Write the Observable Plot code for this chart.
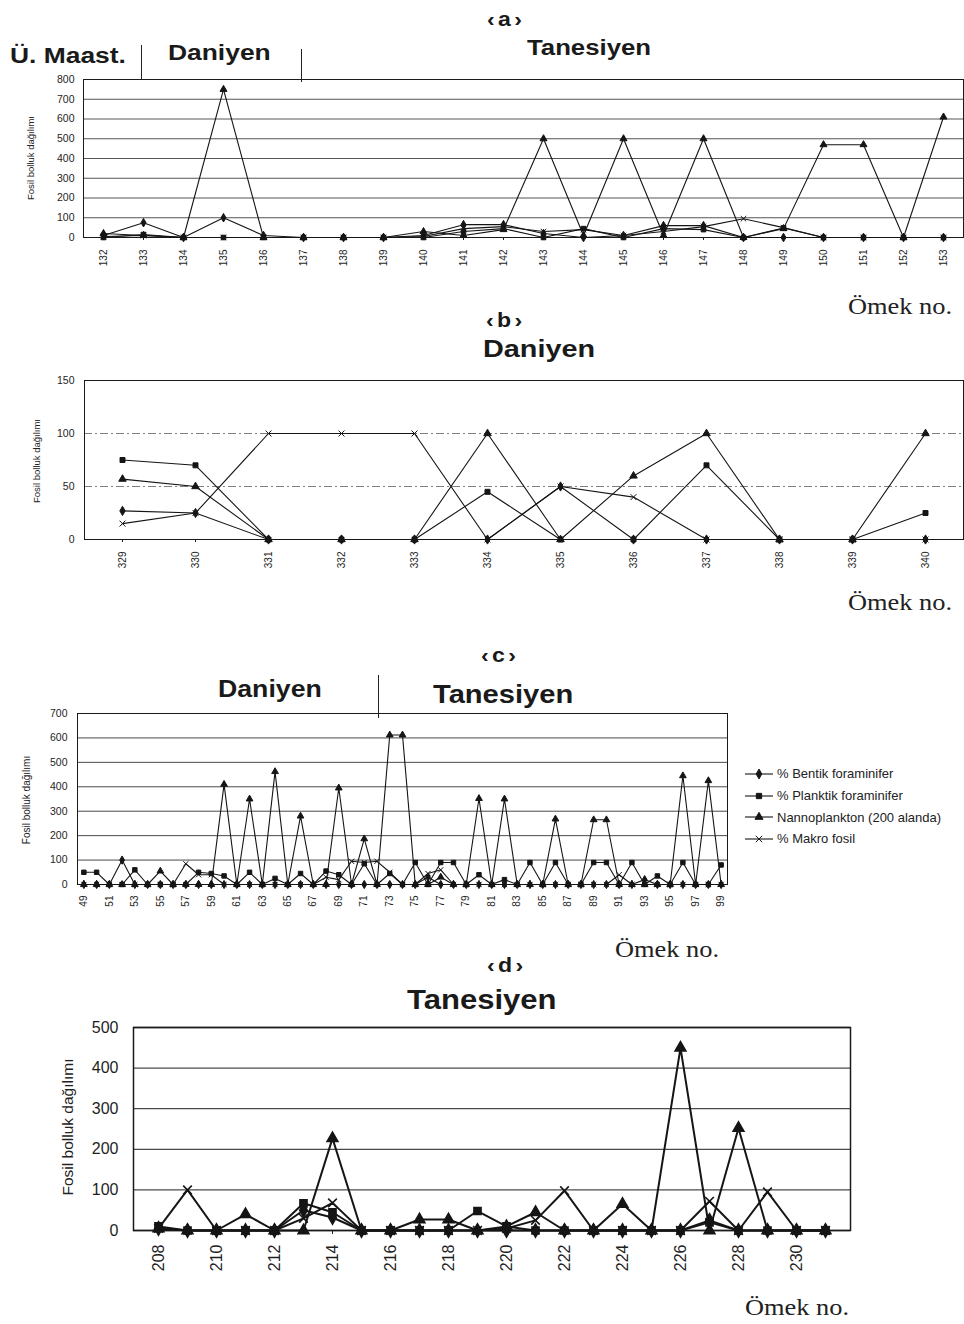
<!DOCTYPE html>
<html><head><meta charset="utf-8">
<script src="https://cdn.jsdelivr.net/npm/d3@7"></script>
<script src="https://cdn.jsdelivr.net/npm/@observablehq/plot@0.6"></script>
<style>
body{margin:0;background:#fff;}
#root{position:relative;width:964px;height:1324px;background:#fff;font-family:"Liberation Sans",Arial,sans-serif;color:#1a1a1a;overflow:hidden;}
.t{position:absolute;white-space:nowrap;font-weight:bold;line-height:1;transform-origin:left top;}
.br{letter-spacing:3px;}
.omek{position:absolute;white-space:nowrap;font-family:"Liberation Serif","Times New Roman",serif;line-height:1;transform-origin:left top;color:#222;}
.plot{position:absolute;left:0;}
.vr{position:absolute;width:0;border-left:1.6px solid #222;}
.yl{position:absolute;white-space:nowrap;line-height:1;transform:translate(-50%,-50%) rotate(-90deg);color:#222;}
.leg{position:absolute;left:745px;font-size:13px;line-height:1;color:#222;}
.leg div{display:flex;align-items:center;height:21.7px;white-space:nowrap;}
.leg svg{margin-right:4px;}
</style></head><body><div id="root"></div>
<script>
// ---------- data ----------
const names = ["% Bentik foraminifer", "% Planktik foraminifer", "Nannoplankton (200 alanda)", "% Makro fosil"];
const symbols = ["diamond", "square", "triangle", "times"];

// (a)
const samplesA = [132,133,134,135,136,137,138,139,140,141,142,143,144,145,146,147,148,149,150,151,152,153];
const bentikA   = [10, 75, 0, 100, 10, 0, 0, 0, 10, 65, 65, 20, 0, 10, 60, 60, 0, 0, 0, 0, 0, 0];
const planktikA = [0, 15, 0, 0, 0, 0, 0, 0, 0, 30, 45, 0, 45, 0, 45, 40, 0, 48, 0, 0, 0, 0];
const nannoA    = [20, 10, 0, 750, 0, 0, 0, 0, 30, 10, 40, 500, 10, 500, 10, 500, 0, 45, 470, 470, 0, 610];
const makroA    = [5, 10, 0, 0, 0, 0, 0, 0, 5, 45, 55, 30, 40, 10, 30, 55, 95, 50, 0, 0, 0, 0];
const yTicksA = [0,100,200,300,400,500,600,700,800];

// (b)
const samplesB = [329,330,331,332,333,334,335,336,337,338,339,340];
const bentikB   = [27, 25, 0, 0, 0, 0, 50, 0, 0, 0, 0, 0];
const planktikB = [75, 70, 0, 0, 0, 45, 0, 0, 70, 0, 0, 25];
const nannoB    = [57, 50, 0, 0, 0, 100, 0, 60, 100, 0, 0, 100];
const makroB    = [15, 25, 100, 100, 100, 0, 50, 40, 0, 0, 0, 0];
const yTicksB = [0,50,100,150];

// (c)
const samplesC = [49,50,51,52,53,54,55,56,57,58,59,60,61,62,63,64,65,66,67,68,69,70,71,72,73,74,75,76,77,78,79,80,81,82,83,84,85,86,87,88,89,90,91,92,93,94,95,96,97,98,99];
const bentikC   = [0,0,0,100,0,0,0,0,0,0, 0,0,0,0,0,0,0,0,0,0, 0,0,0,0,0,0,0,30,0,0, 0,0,0,0,0,0,0,0,0,0, 0,0,0,0,20,0,0,0,0,0, 0];
const planktikC = [50,50,0,0,60,0,0,0,0,50, 45,35,0,50,0,25,0,45,0,55, 40,0,85,0,45,0,90,0,90,90, 0,40,0,20,0,90,0,90,0,0, 90,90,0,90,0,35,0,90,0,0, 80];
const nannoC    = [0,0,0,0,0,0,55,0,0,0, 0,410,0,350,0,462,0,280,0,0, 395,0,187,0,612,612,0,0,30,0, 0,352,0,350,0,0,0,268,0,0, 265,265,0,0,0,0,0,445,0,425, 0];
const makroC    = [0,0,0,0,0,0,0,0,85,40, 40,0,0,0,0,0,0,0,0,30, 20,95,90,95,50,0,0,45,60,0, 0,0,0,0,0,0,0,0,0,0, 0,0,40,0,0,0,0,0,0,0, 0];
const xLabelsC = [49,51,53,55,57,59,61,63,65,67,69,71,73,75,77,79,81,83,85,87,89,91,93,95,97,99];
const yTicksC = [0,100,200,300,400,500,600,700];

// (d)
const samplesD = [208,209,210,211,212,213,214,215,216,217,218,219,220,221,222,223,224,225,226,227,228,229,230,231];
const bentikD   = [5, 0, 0, 0, 0, 50, 32, 0, 0, 0, 0, 0, 0, 0, 0, 0, 0, 0, 0, 25, 0, 0, 0, 0];
const planktikD = [10, 0, 0, 0, 0, 67, 45, 0, 0, 0, 0, 48, 10, 0, 0, 0, 0, 0, 0, 20, 0, 0, 0, 0];
const nannoD    = [5, 0, 0, 40, 0, 0, 227, 0, 0, 27, 27, 0, 10, 45, 0, 0, 65, 0, 450, 0, 252, 0, 0, 0];
const makroD    = [5, 100, 0, 0, 0, 30, 68, 0, 0, 0, 0, 0, 5, 25, 98, 0, 0, 0, 0, 72, 0, 95, 0, 0];
const xLabelsD = [208,210,212,214,216,218,220,222,224,226,228,230];
const yTicksD = [0,100,200,300,400,500];

const yTitle = "Fosil bolluk dağılımı";

// ---------- drawing ----------
const root = document.getElementById("root");

function panel(p) {
  const rows = [];
  p.series.forEach((vals, k) => vals.forEach((v, i) => {
    if (v != null) rows.push({sample: p.samples[i], value: v, series: names[k]});
  }));
  const chart = Plot.plot({
    width: p.width, height: p.height,
    marginTop: p.mt, marginRight: p.mr, marginBottom: p.mb, marginLeft: p.ml,
    style: {fontFamily: '"Liberation Sans", Arial, sans-serif', background: "transparent", color: "#1e1e1e", overflow: "visible"},
    x: {type: "point", domain: p.samples, padding: 0.5},
    y: {domain: [0, p.ymax]},
    symbol: {domain: names, range: symbols},
    marks: [
      Plot.gridY(p.yticks, {stroke: "#2a2a2a", strokeOpacity: p.gridOp, strokeWidth: p.gridW, strokeDasharray: p.gridDash}),
      Plot.frame({stroke: "#1a1a1a", strokeWidth: p.frameW}),
      Plot.axisY(p.yticks, {tickSize: 0, tickPadding: p.ytp, fontSize: p.yfs, label: null}),
      Plot.axisX(p.xticks, {tickSize: p.xts, tickPadding: p.xtp, tickRotate: -90, fontSize: p.xfs, label: null}),
      Plot.line(rows, {x: "sample", y: "value", z: "series", stroke: "#151515", strokeWidth: p.lw}),
      Plot.dot(rows, {x: "sample", y: "value", symbol: "series", fill: "#151515", stroke: "#151515", strokeWidth: p.mw, r: p.r})
    ]
  });
  chart.classList.add("plot");
  chart.style.top = p.top + "px";
  root.appendChild(chart);
}

function txt(s, left, top, size, sx, cls) {
  const d = document.createElement("div");
  d.className = cls || "t";
  d.textContent = s;
  d.style.left = left + "px";
  d.style.top = top + "px";
  d.style.fontSize = size + "px";
  if (sx) d.style.transform = `scaleX(${sx})`;
  root.appendChild(d);
}
function vr(x, y1, y2) {
  const d = document.createElement("div");
  d.className = "vr";
  d.style.left = x + "px"; d.style.top = y1 + "px"; d.style.height = (y2 - y1) + "px";
  root.appendChild(d);
}
function ylab(cx, cy, size, weight) {
  const d = document.createElement("div");
  d.className = "yl";
  d.textContent = yTitle;
  d.style.left = cx + "px"; d.style.top = cy + "px"; d.style.fontSize = size + "px";
  if (weight) d.style.fontWeight = weight;
  root.appendChild(d);
}

// (a)
panel({samples: samplesA, series: [bentikA, planktikA, nannoA, makroA], ymax: 800, yticks: yTicksA, xticks: samplesA,
  top: 69, width: 964, height: 213, mt: 10, mb: 45, ml: 83, mr: 1,
  gridOp: 0.8, gridW: 1, frameW: 1, ytp: 9, yfs: 10.5, xts: 3, xtp: 9, xfs: 10, lw: 1.1, mw: 1, r: 2.6});
txt("‹a›", 487, 8, 21, 1.1, "t br");
txt("Ü. Maast.", 10, 45, 22, 1.2);
vr(141, 45, 80);
txt("Daniyen", 168, 42, 22, 1.2);
vr(301, 49, 82);
txt("Tanesiyen", 527, 37, 22, 1.17);
txt("Ömek no.", 848, 294, 24, 1.1, "omek");
ylab(31, 158, 9.5);

// (b)
panel({samples: samplesB, series: [bentikB, planktikB, nannoB, makroB], ymax: 150, yticks: yTicksB, xticks: samplesB,
  top: 370, width: 964, height: 214, mt: 10, mb: 45, ml: 84, mr: 1,
  gridOp: 0.6, gridW: 1, gridDash: "8,3,2,3", frameW: 1, ytp: 10, yfs: 10.5, xts: 3, xtp: 9, xfs: 10, lw: 1.1, mw: 1, r: 2.8});
txt("‹b›", 486, 309, 21, 1.1, "t br");
txt("Daniyen", 483, 337, 24, 1.2);
txt("Ömek no.", 848, 590, 24, 1.1, "omek");
ylab(37, 461, 9.5);

// (c)
panel({samples: samplesC, series: [bentikC, planktikC, nannoC, makroC], ymax: 700, yticks: yTicksC, xticks: xLabelsC,
  top: 703, width: 735, height: 221, mt: 10, mb: 40, ml: 77, mr: 8,
  gridOp: 0.85, gridW: 1, frameW: 1, ytp: 10, yfs: 10.5, xts: 3, xtp: 8, xfs: 10, lw: 1.1, mw: 1, r: 2.5});
txt("‹c›", 481, 644, 21, 1.1, "t br");
txt("Daniyen", 218, 678, 23, 1.16);
vr(378, 675, 718);
txt("Tanesiyen", 433, 681, 26, 1.12);
txt("Ömek no.", 615, 937, 24, 1.1, "omek");
ylab(27, 800, 10);

// legend (c)
const leg = document.createElement("div");
leg.className = "leg";
leg.style.top = "763px";
const d3sym = {diamond: d3.symbolDiamond, square: d3.symbolSquare, triangle: d3.symbolTriangle, times: d3.symbolTimes};
names.forEach((n, k) => {
  const row = document.createElement("div");
  const sym = d3.symbol(d3sym[symbols[k]], 28)();
  row.innerHTML = `<svg width="28" height="10" viewBox="0 0 28 10"><line x1="0" x2="28" y1="5" y2="5" stroke="#151515" stroke-width="1.1"/><path d="${sym}" transform="translate(14,5)" fill="#151515" stroke="#151515"/></svg><span>${n}</span>`;
  leg.appendChild(row);
});
root.appendChild(leg);

// (d)
panel({samples: samplesD, series: [bentikD, planktikD, nannoD, makroD], ymax: 500, yticks: yTicksD, xticks: xLabelsD,
  top: 1017, width: 860, height: 268, mt: 10, mb: 55, ml: 133, mr: 10,
  gridOp: 0.85, gridW: 1.3, frameW: 1.5, ytp: 15, yfs: 16, xts: 4, xtp: 10, xfs: 16, lw: 2, mw: 1.6, r: 4});
txt("‹d›", 487, 954, 21, 1.1, "t br");
txt("Tanesiyen", 407, 987, 27, 1.15);
txt("Ömek no.", 745, 1295, 24, 1.1, "omek");
ylab(68, 1127, 15.5, "500");
</script>
</body></html>
